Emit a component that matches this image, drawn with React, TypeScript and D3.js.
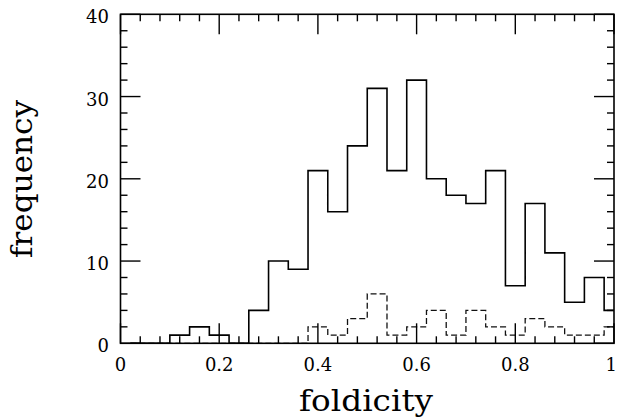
import React from "react";
import * as d3 from "d3";

// Histogram bins: start of each 0.04-wide bin
const binStarts = [0.02, 0.06, 0.10, 0.14, 0.18, 0.22, 0.26, 0.30, 0.34, 0.38, 0.42, 0.46, 0.50, 0.54, 0.58, 0.62, 0.66, 0.70, 0.74, 0.78, 0.82, 0.86, 0.90, 0.94, 0.98];
const binWidth = 0.04;
const solidCounts = [0, 0, 1, 2, 1, 0, 4, 10, 9, 21, 16, 24, 31, 21, 32, 20, 18, 17, 21, 7, 17, 11, 5, 8, 4];
const dashedCounts = [0, 0, 0, 0, 0, 0, 0, 0, 0, 2, 1, 3, 6, 1, 2, 4, 1, 4, 2, 1, 3, 2, 1, 1, 2];

const xMajorTicks = [0, 0.2, 0.4, 0.6, 0.8, 1];
const xTickLabels = ["0", "0.2", "0.4", "0.6", "0.8", "1"];
const yMajorTicks = [0, 10, 20, 30, 40];
const yTickLabels = ["0", "10", "20", "30", "40"];
const xMinorStep = 0.04;
const yMinorStep = 2;

const W = 618;
const H = 420;
const L = 120.5, R = 614, T = 14.3, B = 343.3;
const FONT = "'DejaVu Serif', serif";

export default function App() {
  const x = d3.scaleLinear().domain([0, 1]).range([L, R]);
  const y = d3.scaleLinear().domain([0, 40]).range([B, T]);

  const xMinor = d3.range(0, 1 + 1e-9, xMinorStep).filter(v => !xMajorTicks.some(m => Math.abs(m - v) < 1e-6));
  const yMinor = d3.range(0, 40 + 1e-9, yMinorStep).filter(v => !yMajorTicks.some(m => Math.abs(m - v) < 1e-6));

  const stepPath = (counts: number[]) => {
    const pts: [number, number][] = counts.map((c, i) => [binStarts[i], c]);
    const last = binStarts.length - 1;
    pts.push([binStarts[last] + binWidth, counts[last]]);
    return d3.line<[number, number]>()
      .x(d => x(d[0]))
      .y(d => y(d[1]))
      .curve(d3.curveStepAfter)(pts) || "";
  };

  const majorLen = 20, minorLen = 7;

  return (
    <svg width={W} height={H} style={{ position: "absolute", left: 0, top: 0, background: "#fff" }}>
      <defs>
        <clipPath id="plotclip">
          <rect x={L} y={T} width={R - L} height={B - T} />
        </clipPath>
      </defs>
      <g clipPath="url(#plotclip)" fill="none">
        <path d={stepPath(dashedCounts)} stroke="#111" strokeWidth={1.3} strokeDasharray="6,3" />
        <path d={stepPath(solidCounts)} stroke="#000" strokeWidth={1.6} />
      </g>
      {/* ticks */}
      <g stroke="#000" strokeWidth={1.4}>
        {xMajorTicks.map(v => (
          <g key={"xm" + v}>
            <line x1={x(v)} x2={x(v)} y1={B} y2={B - majorLen} />
            <line x1={x(v)} x2={x(v)} y1={T} y2={T + majorLen} />
          </g>
        ))}
        {xMinor.map(v => (
          <g key={"xn" + v}>
            <line x1={x(v)} x2={x(v)} y1={B} y2={B - minorLen} />
            <line x1={x(v)} x2={x(v)} y1={T} y2={T + minorLen} />
          </g>
        ))}
        {yMajorTicks.map(v => (
          <g key={"ym" + v}>
            <line x1={L} x2={L + majorLen} y1={y(v)} y2={y(v)} />
            <line x1={R} x2={R - majorLen} y1={y(v)} y2={y(v)} />
          </g>
        ))}
        {yMinor.map(v => (
          <g key={"yn" + v}>
            <line x1={L} x2={L + minorLen} y1={y(v)} y2={y(v)} />
            <line x1={R} x2={R - minorLen} y1={y(v)} y2={y(v)} />
          </g>
        ))}
      </g>
      <rect x={L} y={T} width={R - L} height={B - T} fill="none" stroke="#000" strokeWidth={1.6} />
      {/* tick labels */}
      <g fontFamily={FONT} fontSize={18} fill="#000">
        {xMajorTicks.map((v, i) => {
          const isLast = i === xMajorTicks.length - 1;
          return (
            <text key={"xl" + v} x={isLast ? 617 : x(v)} y={371} textAnchor={isLast ? "end" : "middle"}>{xTickLabels[i]}</text>
          );
        })}
        {yMajorTicks.map((v, i) => (
          <text key={"yl" + v} x={109} y={y(v) + 9} textAnchor="end">{yTickLabels[i]}</text>
        ))}
      </g>
      <text x={366} y={411} textAnchor="middle" fontFamily={FONT} fontSize={29}
        textLength={134} lengthAdjust="spacingAndGlyphs">foldicity</text>
      <text transform="translate(32,179) rotate(-90)" textAnchor="middle" fontFamily={FONT} fontSize={29}
        textLength={158} lengthAdjust="spacingAndGlyphs">frequency</text>
    </svg>
  );
}
